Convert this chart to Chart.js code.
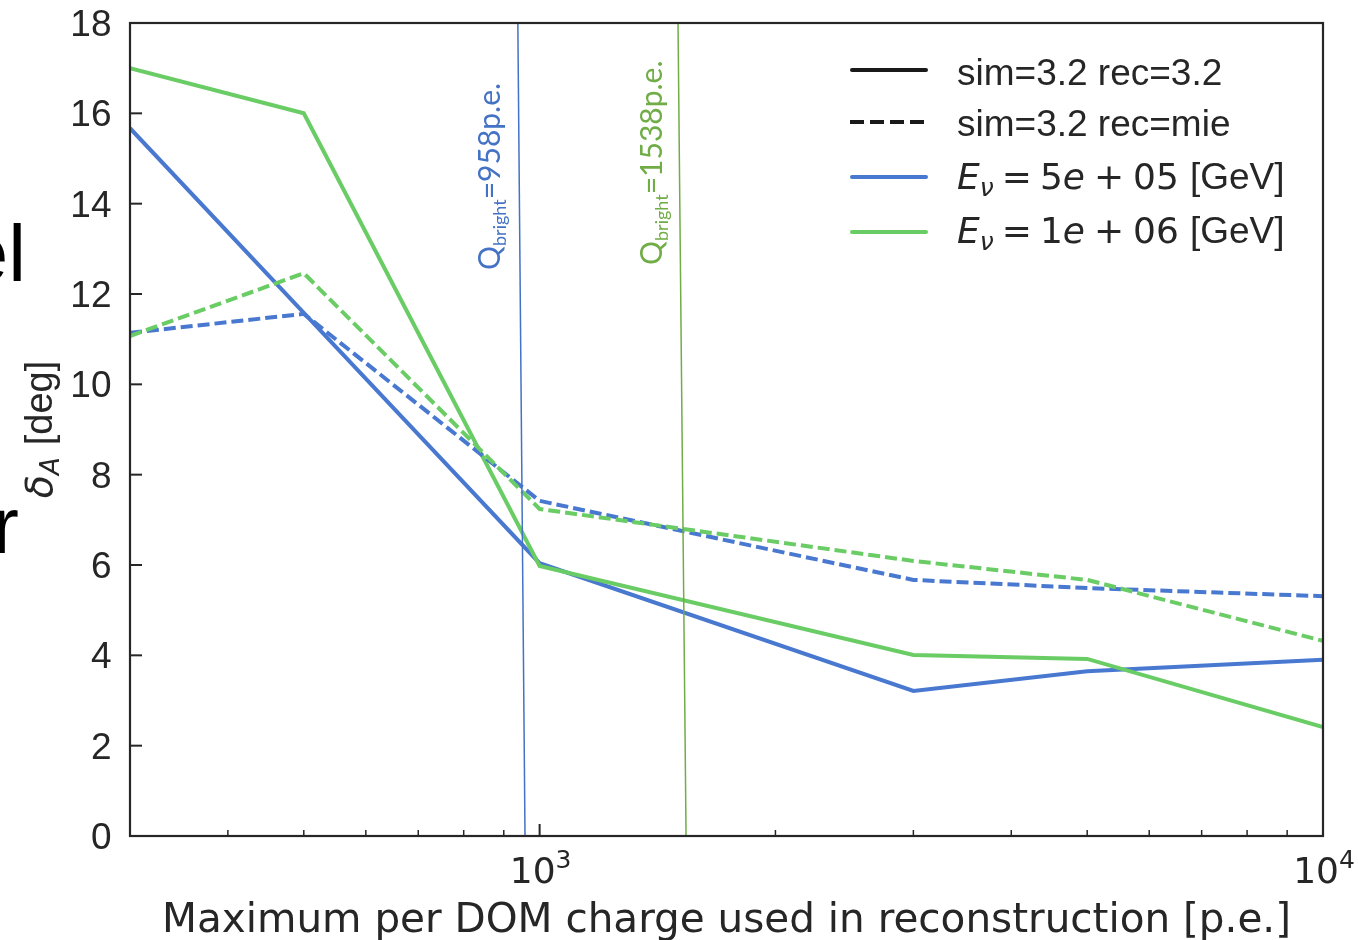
<!DOCTYPE html>
<html><head><meta charset="utf-8">
<script src="https://cdn.jsdelivr.net/npm/chart.js@4"></script>
<style>html,body{margin:0;padding:0;background:#fff;}#wrap{width:1358px;height:940px;position:relative;}</style>
</head><body><div id="wrap"><canvas id="c" width="1358" height="940"></canvas></div>
<script>
// ---- data ----
const charges = [300, 500, 1000, 3000, 5000, 10000];
const solidE5 = [15.67, 11.58, 6.04, 3.21, 3.65, 3.90];   // sim=3.2 rec=3.2, Ev=5e5
const solidE6 = [17.00, 16.00, 5.98, 4.01, 3.92, 2.41];   // sim=3.2 rec=3.2, Ev=1e6
const dashedE5 = [11.14, 11.56, 7.42, 5.67, 5.49, 5.31];  // sim=3.2 rec=mie, Ev=5e5
const dashedE6 = [11.07, 12.46, 7.24, 6.09, 5.67, 4.32];  // sim=3.2 rec=mie, Ev=1e6
const qBlueX = [938, 958];
const qGreenX = [1502, 1538];
const qLineY = [18, 0];
const qBlueLabel = ['Q', 'bright', '=958p.e.'];
const qGreenLabel = ['Q', 'bright', '=1538p.e.'];
const yTickValues = [0, 2, 4, 6, 8, 10, 12, 14, 16, 18];
const xMajorTicks = [1000, 10000];
const xMajorExp = ['3', '4'];
const xMinorTicks = [400, 500, 600, 700, 800, 900, 2000, 3000, 4000, 5000, 6000, 7000, 8000, 9000];
const legendLabels = ['sim=3.2 rec=3.2', 'sim=3.2 rec=mie', '5e + 05', '1e + 06'];
const xTitle = 'Maximum per DOM charge used in reconstruction [p.e.]';

const BLUE = '#4878CF', GREEN = '#6ACC65';
const QBLUE = '#4472C4', QGREEN = '#70AD47';
const TXT = '#262626';

const pts = (xs, ys) => xs.map((x, i) => ({x: x, y: ys[i]}));

function runs(ctx, x, y, list) {
  for (const r of list) {
    if (r.gap) { x += r.gap; continue; }
    ctx.font = r.font;
    ctx.fillText(r.t, x, y + (r.dy || 0));
    x += ctx.measureText(r.t).width;
  }
  return x;
}
function runsWidth(ctx, list) {
  let w = 0;
  for (const r of list) {
    if (r.gap) { w += r.gap; continue; }
    ctx.font = r.font; w += ctx.measureText(r.t).width;
  }
  return w;
}

const decor = {
  id: 'decor',
  afterDraw(chart) {
    const ctx = chart.ctx, a = chart.chartArea;
    const xs = chart.scales.x, ys = chart.scales.y;
    ctx.save();
    // spines
    ctx.strokeStyle = TXT; ctx.lineWidth = 2.2;
    ctx.strokeRect(a.left, a.top, a.right - a.left, a.bottom - a.top);
    // y ticks (inward)
    ctx.fillStyle = TXT; ctx.textAlign = 'right'; ctx.textBaseline = 'alphabetic';
    ctx.font = '37px "Liberation Sans"';
    for (const v of yTickValues) {
      const py = ys.getPixelForValue(v);
      ctx.beginPath(); ctx.lineWidth = 2; ctx.moveTo(a.left, py); ctx.lineTo(a.left + 12, py); ctx.stroke();
      ctx.fillText(String(v), 111.5, py + 13);
    }
    // x ticks
    for (const v of xMinorTicks) {
      const px = xs.getPixelForValue(v);
      ctx.beginPath(); ctx.lineWidth = 1.5; ctx.moveTo(px, a.bottom); ctx.lineTo(px, a.bottom - 6); ctx.stroke();
    }
    ctx.textAlign = 'left';
    xMajorTicks.forEach((v, i) => {
      const px = xs.getPixelForValue(v);
      ctx.beginPath(); ctx.lineWidth = 2; ctx.moveTo(px, a.bottom); ctx.lineTo(px, a.bottom - 12); ctx.stroke();
      const lst = [{t: '10', font: '36px "DejaVu Sans"'}, {t: xMajorExp[i], font: '25px "DejaVu Sans"', dy: -15}];
      const w = runsWidth(ctx, lst);
      runs(ctx, px - w / 2 + 1, 883, lst);
    });
    // x title
    ctx.textAlign = 'center';
    ctx.font = '40.5px "DejaVu Sans"';
    ctx.fillText(xTitle, (a.left + a.right) / 2, 932);
    // y title
    ctx.save();
    ctx.translate(52, (a.top + a.bottom) / 2);
    ctx.rotate(-Math.PI / 2);
    ctx.textAlign = 'left';
    const yt = [{t: 'δ', font: 'italic 38px "DejaVu Sans"'}, {t: 'A', font: 'italic 26px "DejaVu Sans"', dy: 7}, {gap: 12}, {t: '[deg]', font: '38px "Liberation Sans"'}];
    runs(ctx, -runsWidth(ctx, yt) / 2, 0, yt);
    ctx.restore();
    // Q labels
    function qlabel(lbl, bx, by, col) {
      ctx.save();
      ctx.translate(bx, by); ctx.rotate(-Math.PI / 2);
      ctx.fillStyle = col; ctx.textAlign = 'left';
      runs(ctx, 0, 0, [{t: lbl[0], font: '30px Lato'}, {t: lbl[1], font: '18px Lato', dy: 6}, {t: lbl[2], font: '30px Lato'}]);
      ctx.restore();
    }
    qlabel(qBlueLabel, 500, 270, QBLUE);
    qlabel(qGreenLabel, 662, 265, QGREEN);
    // legend
    const lineY = [70, 122, 177, 232];
    const baseY = [85, 136, 189, 243];
    const handles = [
      {c: '#1a1a1a', d: []}, {c: '#1a1a1a', d: [14, 6]}, {c: BLUE, d: []}, {c: GREEN, d: []}
    ];
    handles.forEach((h, i) => {
      ctx.beginPath(); ctx.strokeStyle = h.c; ctx.lineWidth = 4;
      ctx.lineCap = h.d.length ? 'butt' : 'round';
      ctx.setLineDash(h.d);
      ctx.moveTo(h.d.length ? 850 : 852, lineY[i]); ctx.lineTo(h.d.length ? 930 : 926, lineY[i]); ctx.stroke();
    });
    ctx.setLineDash([]);
    ctx.fillStyle = TXT; ctx.textAlign = 'left';
    ctx.font = '37px "Liberation Sans"';
    ctx.fillText(legendLabels[0], 957, baseY[0]);
    ctx.fillText(legendLabels[1], 957, baseY[1]);
    [2, 3].forEach(i => {
      const parts = legendLabels[i].split(' '); // [mantissa+e, '+', exp]
      const mant = parts[0];
      runs(ctx, 957, baseY[i], [
        {t: 'E', font: 'italic 36px "DejaVu Sans"'},
        {t: 'ν', font: 'italic 25px "DejaVu Sans"', dy: 7},
        {gap: 8},
        {t: '=', font: '36px "DejaVu Sans"'},
        {gap: 8},
        {t: mant.slice(0, -1), font: '36px "DejaVu Sans"'},
        {t: 'e', font: 'italic 36px "DejaVu Sans"'},
        {gap: 9},
        {t: '+', font: '36px "DejaVu Sans"'},
        {gap: 9},
        {t: parts[2], font: '36px "DejaVu Sans"'},
        {gap: 11},
        {t: '[GeV]', font: '37px "Liberation Sans"'}
      ]);
    });
    // cut-off text fragments at the far left
    ctx.fillStyle = '#000'; ctx.textAlign = 'right';
    ctx.font = '80px "Liberation Sans"';
    ctx.fillText('el', 26, 281);
    ctx.fillText('r', 19, 553);
    ctx.restore();
  }
};

const lineDs = (label, data, color, dash, order) => ({
  label, data, borderColor: color, borderWidth: 4, borderDash: dash,
  pointRadius: 0, tension: 0, fill: false, order
});

new Chart(document.getElementById('c'), {
  type: 'line',
  data: {
    datasets: [
      lineDs('rec=3.2 E5', pts(charges, solidE5), BLUE, [], 4),
      lineDs('rec=3.2 E6', pts(charges, solidE6), GREEN, [], 3),
      lineDs('rec=mie E5', pts(charges, dashedE5), BLUE, [12, 5], 2),
      lineDs('rec=mie E6', pts(charges, dashedE6), GREEN, [12, 5], 1),
      {label: 'Qb blue', data: pts(qBlueX, qLineY), borderColor: QBLUE, borderWidth: 1.5, pointRadius: 0, order: 0},
      {label: 'Qb green', data: pts(qGreenX, qLineY), borderColor: QGREEN, borderWidth: 1.5, pointRadius: 0, order: 0}
    ]
  },
  options: {
    responsive: false, devicePixelRatio: 1, animation: false,
    layout: {padding: {top: 23, right: 35, left: 0, bottom: 0}},
    plugins: {legend: {display: false}, tooltip: {enabled: false}},
    scales: {
      x: {type: 'logarithmic', min: 300, max: 10000,
          ticks: {display: false}, grid: {display: false}, border: {display: false},
          afterFit: s => { s.height = 104; }},
      y: {type: 'linear', min: 0, max: 18,
          ticks: {display: false}, grid: {display: false}, border: {display: false},
          afterFit: s => { s.width = 130; }}
    }
  },
  plugins: [decor]
});
</script></body></html>
